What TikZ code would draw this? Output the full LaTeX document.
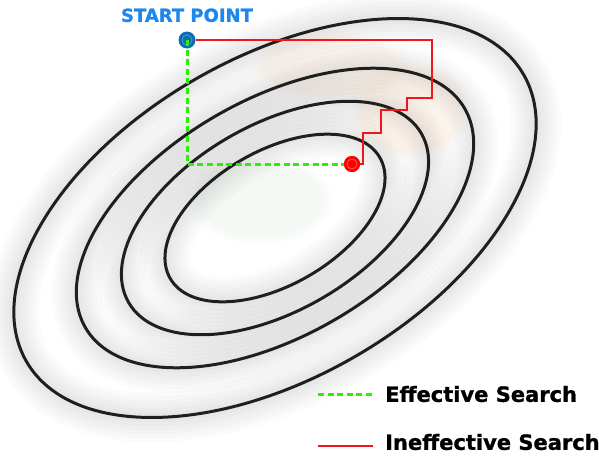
\documentclass[tikz,border=0pt]{standalone}
\usepackage{fontspec}
\setmainfont{DejaVu Sans}
\newfontfamily\heavyfont{DejaVu Sans Bold}[FakeBold=1.2]
\usepackage{tikz}
\usepackage{xcolor}
\usetikzlibrary{positioning, calc, fadings}

\definecolor{dotblue}{RGB}{12,108,182}
\definecolor{labelblue}{RGB}{28,136,236}
\definecolor{effgreen}{RGB}{45,240,0}
\definecolor{ineffred}{RGB}{240,22,30}
\definecolor{goalred}{RGB}{255,0,0}

\begin{document}
\begin{tikzpicture}[
    x=1pt, y=-1pt,
    contour/.style={
        draw=black!88,
        line width=3pt
    },
    halo/.style={
        draw=black,
        opacity=0.016
    },
    effective/.style={
        draw=effgreen,
        line width=3pt,
        dash pattern=on 6pt off 3.6pt
    },
    ineffective/.style={
        draw=ineffred,
        line width=2.8pt
    },
    startdot/.style={
        circle,
        fill=dotblue,
        minimum size=17pt,
        inner sep=0pt,
        path picture={\draw[white, opacity=0.35, line width=0.6pt]
            (path picture bounding box.center) circle (5pt);}
    },
    goaldot/.style={
        circle,
        fill=goalred,
        minimum size=16pt,
        inner sep=0pt,
        path picture={\draw[white, opacity=0.4, line width=0.6pt]
            (path picture bounding box.center) circle (5pt);}
    },
    title/.style={
        font=\fontsize{18}{20}\heavyfont,
        text=labelblue,
        inner sep=0pt
    },
    legend/.style={
        font=\fontsize{21}{24}\heavyfont,
        inner sep=0pt,
        anchor=west
    }
]
\useasboundingbox (0,0) rectangle (599,458);

% Taches de couleur
\fill[orange, opacity=0.06, path fading=circle with fuzzy edge 20 percent]
    (410,110) ellipse [x radius=60pt, y radius=50pt];
\fill[orange, opacity=0.05, path fading=circle with fuzzy edge 20 percent]
    (330,65) ellipse [x radius=80pt, y radius=35pt];
\fill[green!40!black, opacity=0.04, path fading=circle with fuzzy edge 20 percent]
    (260,200) ellipse [x radius=75pt, y radius=45pt];

% Ombres
\foreach \a/\b in {121/67, 169/93, 219/118, 287/160}{
    \foreach \w in {50,42,34,26,18,10}
        \draw[halo, line width=\w pt, shift={(275,218)}, rotate=30]
            (0,0) ellipse [x radius=\a pt, y radius=\b pt];
}

% Courbes de niveau
\foreach \a/\b in {121/67, 169/93, 219/118, 287/160}
    \draw[contour, shift={(275,218)}, rotate=30]
        (0,0) ellipse [x radius=\a pt, y radius=\b pt];

% Points
\node[goaldot] (goal) at (352,164) {};
\node[startdot] (start) at (187,40) {};
\node[title, above=9pt of start] (startlabel) {START POINT};

% Chemins
\draw[ineffective] (start) -- ++(245,0) -- ++(0,58) -- ++(-25,0) -- ++(0,12)
    -- ++(-26,0) -- ++(0,23) -- ++(-18,0) |- (goal);
\draw[effective] (start.center) |- (goal);
\node[goaldot] at (goal) {};

% Legende
\coordinate (effA) at (318,394);
\coordinate (effB) at (373,394);
\coordinate (ineffA) at (318,446);
\coordinate (ineffB) at (373,446);

\draw[effective] (effA) -- (effB);
\draw[ineffective] (ineffA) -- (ineffB);

\node[legend] (efftext) at (385,394) {Effective Search};
\node[legend] (inefftext) at (385,442) {Ineffective Search};

\end{tikzpicture}
\end{document}
